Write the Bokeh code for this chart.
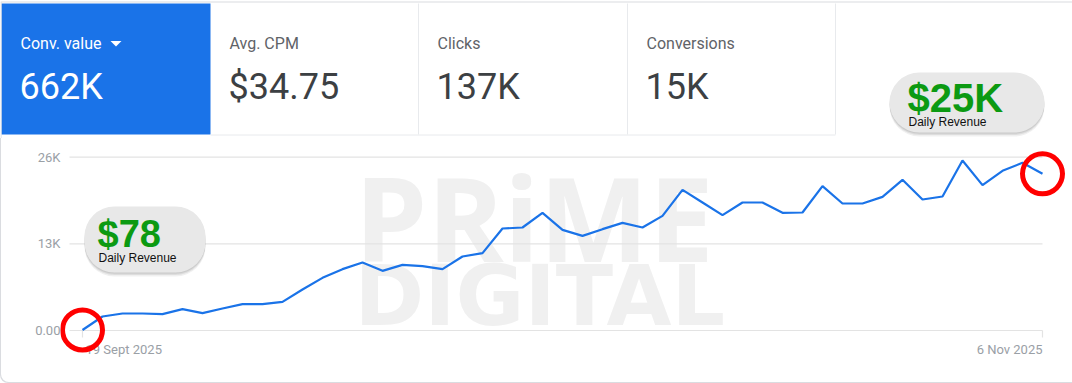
import numpy as np
import pandas as pd
from bokeh.plotting import figure
from bokeh.layouts import column
from bokeh.models import Range1d, FixedTicker
from bokeh.core.properties import value
from bokeh.embed import file_html
from bokeh.resources import INLINE

# ---------------- data ----------------
dates = pd.date_range("2025-09-19", "2025-11-06", freq="D")
conv_value_k = [0.078, 2.1, 2.55, 2.55, 2.45, 3.2, 2.6, 3.3, 3.95, 3.95,
                4.3, 6.15, 7.9, 9.2, 10.2, 8.95, 9.85, 9.65, 9.2, 11.1,
                11.6, 15.3, 15.45, 17.65, 15.1, 14.2, 15.2, 16.15, 15.45, 17.2,
                21.1, 19.2, 17.3, 19.2, 19.2, 17.65, 17.7, 21.65, 19.05, 19.05,
                20.05, 22.6, 19.65, 20.1, 25.5, 21.8, 23.95, 25.15, 23.5]
metric_labels = ["Conv. value", "Avg. CPM", "Clicks", "Conversions"]
metric_values = ["662K", "$34.75", "137K", "15K"]
y_ticks = [0, 13, 26]
y_tick_labels = ["0.00", "13K", "26K"]
x_tick_labels = ["19 Sept 2025", "6 Nov 2025"]
callout_start = "$78"
callout_end = "$25K"
callout_caption = "Daily Revenue"
watermark = ["PRiME", "DIGITAL"]

days = np.array([(d - dates[0]).days for d in dates], dtype=float)

# ---------------- geometry ----------------
W = 1072
HEADER_H = 138
CHART_H = 245
FRAME_L, FRAME_R = 60, 1068          # chart frame, page px
FRAME_B = 224                        # chart frame height
X0_PX, DX_PX = 82.0, 20.0            # first day pixel, px per day
ZERO_PAGE = 330.0                    # page y of value 0
PX_PER_K = 173.33 / 26.0

x_start = (FRAME_L - X0_PX) / DX_PX
x_end = (FRAME_R - X0_PX) / DX_PX
y_top = (ZERO_PAGE - HEADER_H) / PX_PER_K
y_bot = (ZERO_PAGE - (HEADER_H + FRAME_B)) / PX_PER_K


def cx(px):
    return (px - X0_PX) / DX_PX


def cy(py):
    return (ZERO_PAGE - py) / PX_PER_K


GREEN = "#0c9a12"
BLUE = "#1a73e8"
BORDER = "#dadce0"
MID = "middle"

# ---------------- header ----------------
h = figure(width=W, height=HEADER_H, x_range=Range1d(0, W), y_range=Range1d(HEADER_H, 0),
           output_backend="svg", toolbar_location=None, min_border=0,
           x_axis_location=None, y_axis_location=None)
h.frame_align = False
h.outline_line_color = None
h.xgrid.visible = False
h.ygrid.visible = False
h.background_fill_color = "white"
h.border_fill_color = "white"

tile_l = [1, 210, 418, 627]
tile_r = [210, 418, 627, 835]
h.quad(left=[tile_l[0]], right=[tile_r[0]], top=[3], bottom=[134], fill_color=BLUE, line_color=None)
h.segment(x0=[0], y0=[1.5], x1=[W], y1=[1.5], line_color=BORDER, line_width=1.2)
h.segment(x0=[0.5], y0=[1.5], x1=[0.5], y1=[HEADER_H], line_color=BORDER, line_width=1)
h.segment(x0=tile_r[1:], y0=[3] * 3, x1=tile_r[1:], y1=[134] * 3, line_color="#e8eaed", line_width=1)
h.segment(x0=[210], y0=[134.5], x1=[835], y1=[134.5], line_color="#e8eaed", line_width=1)

for i, (lab, val) in enumerate(zip(metric_labels, metric_values)):
    c_lab = "white" if i == 0 else "#5f6368"
    c_val = "white" if i == 0 else "#3c4043"
    h.text(x=[tile_l[i] + 19], y=[43], text=[lab], text_font=value("Roboto"),
           text_font_size="16px", text_color=c_lab, text_baseline=MID)
    h.text(x=[tile_l[i] + 18], y=[86], text=[val], text_font=value("Roboto"),
           text_font_size="36px", text_color=c_val, text_baseline=MID)
h.patch(x=[110, 121, 115.5], y=[40.5, 40.5, 46], fill_color="white", line_color=None)

# right callout bubble
for off, a in [(4.0, 0.06), (2.5, 0.08), (1.2, 0.08)]:
    h.quad(left=[889], right=[1044], top=[72 + off], bottom=[132 + off], border_radius=30,
           fill_color="black", fill_alpha=a, line_color=None)
h.quad(left=[889], right=[1044], top=[72], bottom=[132], border_radius=30,
       fill_color="#e8e8e8", line_color=None)
h.text(x=[907], y=[97.5], text=[callout_end], text_font=value("Liberation Sans"),
       text_font_style="bold", text_font_size="40px", text_color=GREEN, text_baseline=MID)
h.text(x=[908], y=[121.5], text=[callout_caption], text_font=value("Liberation Sans"),
       text_font_size="12px", text_color="#111111", text_baseline=MID)

# ---------------- chart ----------------
p = figure(width=W, height=CHART_H, x_range=Range1d(x_start, x_end), y_range=Range1d(y_bot, y_top),
           output_backend="svg", toolbar_location=None, x_axis_location=None,
           min_border_left=FRAME_L, min_border_right=W - FRAME_R, min_border_top=0,
           min_border_bottom=CHART_H - FRAME_B)
p.frame_align = False
p.outline_line_color = None
p.xgrid.visible = False
p.ygrid.visible = False
p.background_fill_color = None
p.border_fill_color = None
p.styles = {"box-shadow": "inset 1px -1px 0 #dadce0", "border-bottom-left-radius": "8px",
            "background-color": "white"}

# watermark
p.text(x=[cx(354)], y=[cy(216.5)], text=[watermark[0]], text_font=value("Open Sans"),
       text_font_style="bold", text_font_size="116px", text_color="#f0f0f0",
       text_baseline=MID)
p.text(x=[cx(354)], y=[cy(295)], text=[watermark[1]], text_font=value("DejaVu Sans"),
       text_font_style="bold", text_font_size="84px", text_color="#f0f0f0",
       text_baseline=MID)

# grid lines and end ticks
p.segment(x0=[cx(69)] * len(y_ticks), y0=y_ticks, x1=[days[-1]] * len(y_ticks), y1=y_ticks,
          line_color="#e3e3e3", line_width=1.2)
p.segment(x0=[days[0], days[-1]], y0=[0, 0], x1=[days[0], days[-1]], y1=[-7 / PX_PER_K] * 2,
          line_color="#e3e3e3", line_width=1.2)

# the series
p.line(days, conv_value_k, line_color=BLUE, line_width=2.2)

# date labels at the series ends
p.text(x=[days[0]], y=[cy(349)], text=[x_tick_labels[0]], x_offset=3, text_font=value("Roboto"),
       text_font_size="13px", text_color="#9aa0a6", text_baseline=MID, text_align="left")
p.text(x=[days[-1]], y=[cy(349)], text=[x_tick_labels[1]], text_font=value("Roboto"),
       text_font_size="13px", text_color="#9aa0a6", text_baseline=MID, text_align="right")

# left callout bubble
for off, a in [(4.0, 0.06), (2.5, 0.08), (1.2, 0.08)]:
    p.quad(left=[cx(84)], right=[cx(205)], top=[cy(206 + off)], bottom=[cy(272 + off)],
           border_radius=30, fill_color="black", fill_alpha=a, line_color=None)
p.quad(left=[cx(84)], right=[cx(205)], top=[cy(206)], bottom=[cy(272)], border_radius=30,
       fill_color="#e8e8e8", line_color=None)
p.text(x=[cx(97)], y=[cy(233)], text=[callout_start], text_font=value("Liberation Sans"),
       text_font_style="bold", text_font_size="38px", text_color=GREEN, text_baseline=MID)
p.text(x=[cx(98)], y=[cy(257.5)], text=[callout_caption], text_font=value("Liberation Sans"),
       text_font_size="12px", text_color="#111111", text_baseline=MID)

# red highlight rings at the first and last day
p.scatter(x=[days[0], days[-1]], y=[conv_value_k[0], conv_value_k[-1]], marker="circle", size=40,
          fill_color=None, line_color="#ff0000", line_width=5)

# y axis
p.yaxis.ticker = FixedTicker(ticks=y_ticks)
p.yaxis.major_label_overrides = {t: l for t, l in zip(y_ticks, y_tick_labels)}
p.yaxis.axis_line_color = None
p.yaxis.major_tick_line_color = None
p.yaxis.minor_tick_line_color = None
p.yaxis.major_tick_out = 0
p.yaxis.major_tick_in = 0
p.yaxis.major_label_standoff = 0
p.yaxis.major_label_text_font = "Roboto"
p.yaxis.major_label_text_font_size = "13px"
p.yaxis.major_label_text_color = "#9aa0a6"

layout = column(h, p)
open("out.html", "w").write(file_html(layout, INLINE))
